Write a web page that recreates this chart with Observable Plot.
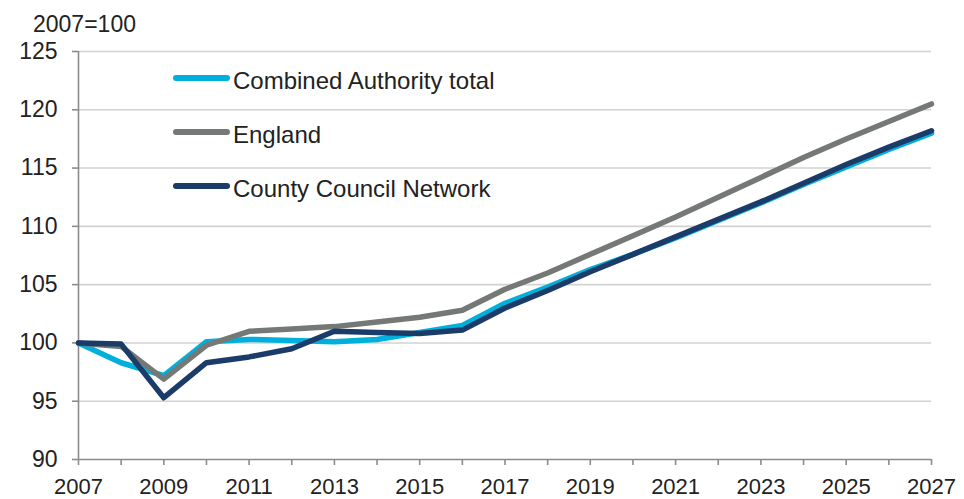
<!DOCTYPE html>
<html>
<head>
<meta charset="utf-8">
<script src="https://cdn.jsdelivr.net/npm/d3@7"></script>
<script src="https://cdn.jsdelivr.net/npm/@observablehq/plot@0.6"></script>
<style>
  html, body { margin: 0; padding: 0; background: #fff; }
  #wrap { position: relative; width: 964px; height: 499px; font-family: "Liberation Sans", Arial, sans-serif; color: #222; }
  #unit { position: absolute; left: 33px; top: 13px; font-size: 23px; line-height: 23px; white-space: nowrap; }
  .leg { position: absolute; left: 173px; height: 24px; font-size: 24px; line-height: 24px; white-space: nowrap; }
  .leg .sw { position: absolute; left: 0; width: 57px; height: 6px; border-radius: 3px; }
  .leg .tx { position: absolute; left: 60px; top: 0; }
</style>
</head>
<body>
<div id="wrap">
  <div id="chart"></div>
  <div id="unit">2007=100</div>
  <div id="legend"></div>
</div>
<script>
const years = [2007,2008,2009,2010,2011,2012,2013,2014,2015,2016,2017,2018,2019,2020,2021,2022,2023,2024,2025,2026,2027];
const seriesNames = ["Combined Authority total", "England", "County Council Network"];
const combinedAuthority = [100, 98.3, 97.2, 100.1, 100.3, 100.2, 100.1, 100.3, 100.9, 101.5, 103.4, 104.8, 106.3, 107.6, 109.0, 110.5, 112.0, 113.6, 115.1, 116.6, 118.0];
const england = [100, 99.7, 96.9, 99.8, 101.0, 101.2, 101.4, 101.8, 102.2, 102.8, 104.6, 106.0, 107.6, 109.2, 110.8, 112.5, 114.2, 115.9, 117.5, 119.0, 120.5];
const countyCouncil = [100, 99.9, 95.3, 98.3, 98.8, 99.5, 101.0, 100.9, 100.8, 101.1, 103.0, 104.5, 106.1, 107.6, 109.1, 110.6, 112.1, 113.7, 115.3, 116.8, 118.2];
const yTicks = [90, 95, 100, 105, 110, 115, 120, 125];
const xLabelTicks = [2007, 2009, 2011, 2013, 2015, 2017, 2019, 2021, 2023, 2025, 2027];
const colors = ["#00b0dc", "#757975", "#1b3b69"];

const valuesBySeries = [combinedAuthority, england, countyCouncil];
const data = [];
seriesNames.forEach((name, i) => {
  years.forEach((y, j) => data.push({series: name, year: y, value: valuesBySeries[i][j]}));
});

const axisColor = "#8c8c8c";
const chart = Plot.plot({
  width: 964,
  height: 499,
  marginLeft: 78,
  marginRight: 33,
  marginTop: 51,
  marginBottom: 40,
  style: {fontFamily: "Liberation Sans, Arial, sans-serif", fontSize: "23px", color: "#222", background: "#fff"},
  x: {domain: [2007, 2027]},
  y: {domain: [90, 125]},
  color: {domain: seriesNames, range: colors},
  marks: [
    Plot.gridY(yTicks.filter(d => d !== 90), {stroke: "#d2d2d2", strokeOpacity: 1, strokeWidth: 1.6}),
    Plot.ruleX([2007], {stroke: axisColor, strokeWidth: 1.6}),
    Plot.ruleY([90], {stroke: axisColor, strokeWidth: 1.6}),
    Plot.axisY(yTicks, {tickSize: 6, tickPadding: 15, stroke: axisColor, strokeWidth: 1.6, fill: "#222", label: null, tickFormat: d => String(d)}),
    Plot.axisX(years, {tickSize: 6, text: null, stroke: axisColor, strokeWidth: 1.6, label: null}),
    Plot.axisX(xLabelTicks, {tickSize: 0, tickPadding: 19, fontSize: 22, fill: "#222", label: null, tickFormat: d => String(d)}),
    Plot.line(data, {x: "year", y: "value", z: "series", stroke: "series", strokeWidth: 5.5, strokeLinejoin: "round", strokeLinecap: "round"})
  ]
});
document.getElementById("chart").appendChild(chart);

const legend = document.getElementById("legend");
const legendTops = [69, 122.5, 177];
seriesNames.forEach((name, i) => {
  const item = document.createElement("div");
  item.className = "leg";
  item.style.top = legendTops[i] + "px";
  const sw = document.createElement("div");
  sw.className = "sw";
  sw.style.background = colors[i];
  sw.style.top = "6px";
  const tx = document.createElement("div");
  tx.className = "tx";
  tx.textContent = name;
  item.appendChild(sw);
  item.appendChild(tx);
  legend.appendChild(item);
});
</script>
</body>
</html>
